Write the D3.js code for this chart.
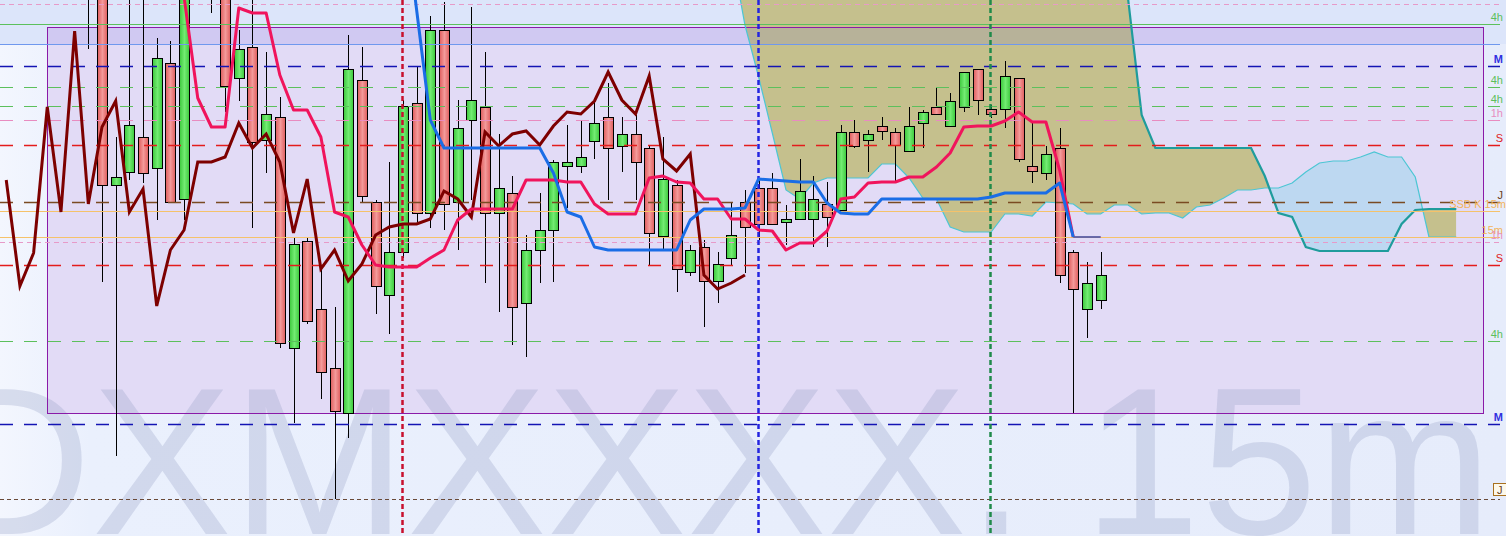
<!DOCTYPE html>
<html><head><meta charset="utf-8">
<script src="https://cdn.jsdelivr.net/npm/d3@7"></script>
<style>html,body{margin:0;padding:0;overflow:hidden;background:#e8eefc}svg{display:block}</style>
</head><body><svg id="c" width="1506" height="536"></svg>
<script>
// ---------------- DATA (price units, bar index along x) ----------------
const candleStart = -1; // bar index of first candle
const opens = [
  660,630,415,428,463,432,537,401,610,660,
  630,522,553,460,483,252,359,291,232,187,
  520,398,305,348,497,387,570,398,480,493,
  387,407,297,350,370,434,434,459,483,454,
  466,452,364,415,328,353,319,342,398,412,
  412,378,381,381,396,390,468,460,474,468,
  449,477,493,474,493,531,491,491,522,434,
  427,452,348,291,300];
const highs = [
  670,640,463,610,610,562,559,630,660,670,
  640,570,610,548,503,362,362,335,293,565,
  553,400,438,500,533,584,598,500,593,548,
  466,424,365,407,440,475,479,498,517,483,
  485,454,463,420,355,360,348,398,410,420,
  427,395,441,424,418,475,480,470,483,472,
  493,490,513,507,528,531,495,539,522,478,
  454,472,350,338,348];
const lows = [
  551,318,144,420,417,380,398,380,605,587,
  488,499,372,427,252,177,276,201,101,162,
  397,286,266,342,378,372,370,350,400,317,
  288,255,243,317,318,392,427,441,400,428,
  400,335,350,308,324,273,297,335,327,360,
  376,355,381,353,353,390,452,428,460,418,
  449,452,486,474,488,485,482,472,438,417,
  420,317,187,262,291];
const closes = [
  620,415,423,475,427,542,398,620,650,620,
  514,551,458,486,257,356,279,228,189,531,
  404,314,348,494,387,570,396,472,500,387,
  412,293,350,370,438,438,443,477,452,466,
  438,367,421,331,350,319,336,365,373,376,
  376,381,409,401,383,468,454,466,469,455,
  474,488,486,499,528,500,486,524,441,429,
  446,325,311,317,325];

const chikouStart = -7;
const chikou = [420,314,347,493,388,569,396,473,499,388,411,294,350,370,438,438,443,477,452,466,
  438,367,421,331,350,319,336,365,373,376,376,381,409,401,383,468,454,466,469,455,
  474,488,486,499,528,500,486,524,441,429,446,325,311,317,325];

const tenkanStart = 5;
const tenkan = [660,603,502,473,473,592,587,587,525,490,490,463,388,383,355,335,333,333,333,342,
  350,380,391,391,391,391,420,420,420,418,418,396,386,386,386,422,424,418,417,401,
  401,381,381,370,369,350,357,357,369,401,403,417,418,418,423,423,433,447,473,474,
  474,479,488,478,478,430,363,363,363];

const kijunStart = 22;
const kijun = [700,590,480,452,452,452,452,452,452,452,452,427,388,383,353,350,350,350,350,350,
  350,380,391,391,391,392,421,420,419,418,418,397,387,386,386,401,401,401,401,401,
  401,401,401,403,407,407,407,407,417,363,363,363];

const spanStart = 44;
const spanA = [800,730,650,575,523,467,410,401,417,422,422,422,422,436,436,422,402,401,373,368,
  368,368,386,386,384,398,397,396,386,386,395,395,386,387,387,382,393,395,402,410,
  410,412,412,417,428,437,439,439,443,448,443,443,423,363,363,363];
const spanB = [660,660,660,660,660,660,660,660,660,660,660,660,660,660,660,660,660,660,660,660,
  660,660,660,660,660,660,660,660,660,660,660,602,485,452,452,452,452,452,452,452,
  452,424,387,383,353,349,349,349,349,349,349,376,390,391,391,391];

// horizontal levels
const levelValues = [596.5, 576, 556, 533.5, 513, 493.5, 480, 455, 398, 389.5, 363, 358, 335.5, 259, 176, 101];
const levelLabels = ["", "4h", "", "M", "4h", "4h", "1h", "S", "J", "SSB K 15m", "15m", "1h", "S", "4h", "M", "J"];
const levelKinds  = ["fine1h","4hsolid","zone","M","4h","4h","1h","S","J","ssb","15m","fine1h","S","4h","M","Jbox"];

// vertical period separators (bar index)
const vBars = [22, 48, 65];
const vKinds = ["D", "W", "H"];

// zone rectangle (bars / prices)
const zoneBars = [-4, 101];
const zonePrices = [573, 187];
const zoneTopBand = [573, 556];
const topZone = [600, 556];

const watermark = "DXMXXXX. 15m";

// ---------------- CHART ----------------
const W = 1506, H = 536;
const svg = d3.select("#c");
const x = d3.scaleLinear().domain([0, 99]).range([102, 1456.3]);
const y = d3.scaleLinear().domain([600, 64]).range([0, H]);

const defs = svg.append("defs");
function grad(id, stops, horiz = true) {
  const g = defs.append("linearGradient").attr("id", id)
    .attr("x1", 0).attr("y1", 0).attr("x2", horiz ? 1 : 0).attr("y2", horiz ? 0 : 1);
  stops.forEach(s => g.append("stop").attr("offset", s[0]).attr("stop-color", s[1]));
}
grad("gR", [[0, "#df5d5d"], [0.5, "#f39a9a"], [1, "#df5d5d"]]);
grad("gG", [[0, "#3cc83c"], [0.5, "#72ec72"], [1, "#3cc83c"]]);
grad("gBg", [[0, "#f3f6fe"], [0.06, "#eaf0fd"], [1, "#e6ecfb"]]);

// background
svg.append("rect").attr("width", W).attr("height", H).attr("fill", "url(#gBg)");
svg.append("rect").attr("x", 0).attr("width", W)
  .attr("y", y(topZone[0])).attr("height", y(topZone[1]) - y(topZone[0])).attr("fill", "#dce5fa");

// purple zone fill
const zx0 = x(zoneBars[0]), zx1 = x(zoneBars[1]);
svg.append("rect").attr("x", zx0).attr("width", zx1 - zx0)
  .attr("y", y(zonePrices[0])).attr("height", y(zonePrices[1]) - y(zonePrices[0]))
  .attr("fill", "#e2dbf6");

// watermark
svg.append("text").attr("x", -60).attr("y", 534)
  .attr("font-family", "Liberation Sans, Arial, sans-serif").attr("font-size", 210)
  .attr("fill", "rgb(144,154,195)").attr("fill-opacity", 0.28).text(watermark);

// cloud
const spanData = spanA.map((a, k) => ({ i: spanStart + k, a, b: spanB[k] }));
const clipO = defs.append("clipPath").attr("id", "clipO");
clipO.append("path").attr("d", d3.area().x(d => x(d.i)).y0(-2000).y1(d => y(d.a))(spanData));
const clipB = defs.append("clipPath").attr("id", "clipB");
clipB.append("path").attr("d", d3.area().x(d => x(d.i)).y0(-2000).y1(d => y(d.b))(spanData));
svg.append("path").attr("clip-path", "url(#clipO)").attr("fill", "#c5c08d")
  .attr("d", d3.area().x(d => x(d.i)).y0(3000).y1(d => y(d.b))(spanData));
svg.append("path").attr("clip-path", "url(#clipB)").attr("fill", "#bdd8f1")
  .attr("d", d3.area().x(d => x(d.i)).y0(3000).y1(d => y(d.a))(spanData));

// top band overlay and zone border
svg.append("rect").attr("x", zx0).attr("width", zx1 - zx0)
  .attr("y", y(zoneTopBand[0])).attr("height", y(zoneTopBand[1]) - y(zoneTopBand[0]))
  .attr("fill", "rgb(110,100,220)").attr("fill-opacity", 0.15);
svg.append("rect").attr("x", Math.round(zx0) + 0.5).attr("width", Math.round(zx1 - zx0))
  .attr("y", Math.round(y(zonePrices[0])) + 0.5).attr("height", Math.round(y(zonePrices[1]) - y(zonePrices[0])))
  .attr("fill", "none").attr("stroke", "#8a1aa8").attr("stroke-width", 1);

// span lines
const lineGen = d3.line().x(d => x(d.i)).y(d => y(d.v));
svg.append("path").attr("fill", "none").attr("stroke", "#4cc6d4").attr("stroke-width", 1.2)
  .attr("d", lineGen(spanData.map(d => ({ i: d.i, v: d.a }))));
svg.append("path").attr("fill", "none").attr("stroke", "#1f9c9c").attr("stroke-width", 2.2)
  .attr("d", lineGen(spanData.map(d => ({ i: d.i, v: d.b }))));

// candles
const bars = opens.map((o, k) => ({ i: candleStart + k, o, h: highs[k], l: lows[k], c: closes[k] }));
const gC = svg.append("g");
gC.selectAll("line").data(bars).join("line")
  .attr("x1", d => Math.round(x(d.i)) + 0.5).attr("x2", d => Math.round(x(d.i)) + 0.5)
  .attr("y1", d => y(d.h)).attr("y2", d => y(d.l))
  .attr("stroke", "#000").attr("stroke-width", 1);
gC.selectAll("rect").data(bars).join("rect")
  .attr("x", d => Math.round(x(d.i)) - 4.5).attr("width", 10)
  .attr("y", d => Math.round(y(Math.max(d.o, d.c))) + 0.5)
  .attr("height", d => Math.max(1, Math.round(Math.abs(y(d.o) - y(d.c)))))
  .attr("fill", d => d.c >= d.o ? "url(#gG)" : "url(#gR)")
  .attr("stroke", "#000").attr("stroke-width", 1);

// horizontal levels
const kindStyle = {
  fine1h: { c: "#e79ac8", dash: "5,4", w: 1, lc: "#e88cc0" },
  "4hsolid": { c: "#5cc05c", dash: null, w: 1, lc: "#5cc05c" },
  zone: { c: "#6f98ee", dash: null, w: 1, lc: "#6f98ee" },
  M: { c: "#1414b4", dash: "13,11", w: 1.5, lc: "#3030e0" },
  "4h": { c: "#5cc05c", dash: "13,11", w: 1.1, lc: "#5cc05c" },
  "1h": { c: "#e88cc0", dash: "13,11", w: 1.1, lc: "#e88cc0" },
  S: { c: "#e41c1c", dash: "13,11", w: 1.5, lc: "#e02424" },
  J: { c: "#7a4a22", dash: "13,11", w: 1.3, lc: "#6a4020" },
  ssb: { c: "#f5c26a", dash: null, w: 1, lc: "#f2b45a" },
  "15m": { c: "#f5c26a", dash: null, w: 1, lc: "#f2b45a" },
  Jbox: { c: "#6a4a38", dash: "4,3", w: 1, lc: "#6a4020" }
};
const gL = svg.append("g");
levelValues.forEach((v, k) => {
  const st = kindStyle[levelKinds[k]];
  const yy = Math.round(y(v)) + 0.5;
  const ln = gL.append("line").attr("x1", 0).attr("x2", 1500).attr("y1", yy).attr("y2", yy)
    .attr("stroke", st.c).attr("stroke-width", st.w);
  if (st.dash) ln.attr("stroke-dasharray", st.dash);
  const lab = levelLabels[k];
  if (!lab) return;
  if (levelKinds[k] === "Jbox") {
    gL.append("rect").attr("x", 1493.5).attr("y", yy - 16).attr("width", 14).attr("height", 12)
      .attr("fill", "#fdf8ea").attr("stroke", "#a8701e");
    gL.append("text").attr("x", 1497).attr("y", yy - 6).attr("font-family", "Liberation Sans, Arial, sans-serif")
      .attr("font-size", 11).attr("fill", st.lc).text(lab);
    return;
  }
  gL.append("text").attr("x", levelKinds[k] === "ssb" ? 1506 : 1503).attr("y", yy - 4)
    .attr("text-anchor", "end").attr("font-family", "Liberation Sans, Arial, sans-serif")
    .attr("font-size", 11).attr("font-weight", levelKinds[k] === "M" ? "bold" : "normal")
    .attr("fill", st.lc).text(lab);
});

// vertical separators
const vStyle = { D: "#c8102e", W: "#2424e0", H: "#1f8a4a" };
vBars.forEach((b, k) => {
  const xx = Math.round(x(b)) - 0.5;
  svg.append("line").attr("x1", xx).attr("x2", xx).attr("y1", 0).attr("y2", H)
    .attr("stroke", vStyle[vKinds[k]]).attr("stroke-width", 2.5).attr("stroke-dasharray", "5,3");
});

// indicator lines
function series(start, arr) { return arr.map((v, k) => ({ i: start + k, v })); }
const chk = series(chikouStart, chikou);
const tk = series(tenkanStart, tenkan);
const kj = series(kijunStart, kijun);
svg.append("path").attr("fill", "none").attr("stroke", "#7d0000").attr("stroke-width", 3)
  .attr("stroke-linejoin", "miter").attr("d", lineGen(chk));
svg.append("path").attr("fill", "none").attr("stroke", "#f0145c").attr("stroke-width", 3)
  .attr("stroke-linejoin", "round").attr("d", lineGen(tk.filter(d => d.i <= 71)));
svg.append("path").attr("fill", "none").attr("stroke", "#f0145c").attr("stroke-width", 1.2)
  .attr("d", lineGen(tk.filter(d => d.i >= 71)));
svg.append("path").attr("fill", "none").attr("stroke", "#1a6de6").attr("stroke-width", 3)
  .attr("stroke-linejoin", "round").attr("d", lineGen(kj.filter(d => d.i <= 71)));
svg.append("path").attr("fill", "none").attr("stroke", "#3d6cb4").attr("stroke-width", 1.5)
  .attr("d", lineGen(kj.filter(d => d.i >= 71)));
</script>
</body></html>
